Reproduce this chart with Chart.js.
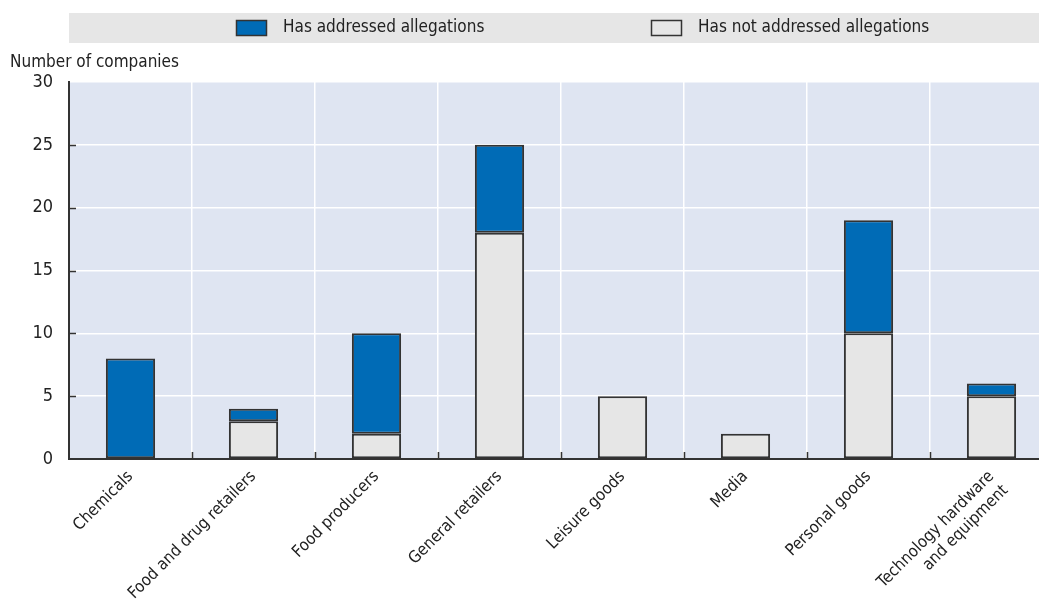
<!DOCTYPE html>
<html>
<head>
<meta charset="utf-8">
<script src="https://cdn.jsdelivr.net/npm/chart.js@4.4.0/dist/chart.umd.min.js"></script>
<style>
    body { margin: 0; background: #fff; overflow: hidden; }
    .chart-wrap { width: 1060px; height: 603px; }
</style>
</head>
<body onload="onInit()">
<div class="chart-wrap">
    <canvas id="myChart" width="1060" height="603"></canvas>
</div>
<script>
'use strict'

const FONT = '"Liberation Sans Narrow", "DejaVu Sans Condensed", Arial, sans-serif'

const gCategories = [
    'Chemicals',
    'Food and drug retailers',
    'Food producers',
    'General retailers',
    'Leisure goods',
    'Media',
    'Personal goods',
    ['Technology hardware', 'and equipment']
]
const gNotAddressed = [0, 3, 2, 18, 5, 2, 10, 5]
const gAddressed = [8, 1, 8, 7, 0, 0, 9, 1]
const gYTicks = [0, 5, 10, 15, 20, 25, 30]

const gLegendItems = [
    { label: 'Has addressed allegations', color: '#006bb6', boxX: 236, textX: 283 },
    { label: 'Has not addressed allegations', color: '#e6e6e6', boxX: 651, textX: 698 }
]

var gChart

// background, legend band, axis title and the short inner tick marks
const decorPlugin = {
    id: 'decor',
    beforeDraw(chart) {
        const ctx = chart.ctx
        const area = chart.chartArea
        ctx.save()
        ctx.fillStyle = '#dfe5f2'
        ctx.fillRect(area.left, area.top, area.right - area.left, area.bottom - area.top)

        ctx.fillStyle = '#e6e6e6'
        ctx.fillRect(area.left, 13, chart.width - area.left, 30)
        ctx.font = '17px ' + FONT
        ctx.textBaseline = 'middle'
        gLegendItems.forEach(item => {
            ctx.fillStyle = item.color
            ctx.fillRect(item.boxX, 20, 31, 16)
            ctx.strokeStyle = '#333'
            ctx.lineWidth = 1.5
            ctx.strokeRect(item.boxX + 0.5, 20.5, 30, 15)
            ctx.fillStyle = '#222'
            ctx.fillText(item.label, item.textX, 28)
        })

        ctx.fillStyle = '#222'
        ctx.font = '17px ' + FONT
        ctx.textBaseline = 'alphabetic'
        ctx.fillText('Number of companies', 10, 67)
        ctx.restore()
    },
    afterDraw(chart) {
        const ctx = chart.ctx
        const area = chart.chartArea
        const x = chart.scales.x
        const y = chart.scales.y
        ctx.save()
        ctx.strokeStyle = '#333'
        ctx.lineWidth = 1.5
        ctx.beginPath()
        for (let i = 1; i < gCategories.length; i++) {
            const px = Math.round((x.getPixelForValue(i - 1) + x.getPixelForValue(i)) / 2) + 0.5
            ctx.moveTo(px, area.bottom)
            ctx.lineTo(px, area.bottom - 7)
        }
        gYTicks.forEach(v => {
            if (v === 0 || v === 30) return
            const py = Math.round(y.getPixelForValue(v)) + 0.5
            ctx.moveTo(area.left, py)
            ctx.lineTo(area.left + 7, py)
        })
        ctx.stroke()
        ctx.restore()
    }
}

function onInit() {
    renderChart()
}

function renderChart() {
    const ctx = document.getElementById('myChart')
    gChart = new Chart(ctx, {
        type: 'bar',
        data: {
            labels: gCategories,
            datasets: [{
                label: gLegendItems[1].label,
                data: gNotAddressed,
                backgroundColor: gLegendItems[1].color,
                borderColor: '#333',
                borderWidth: 2,
                borderSkipped: false,
                barPercentage: 0.4,
                categoryPercentage: 1
            }, {
                label: gLegendItems[0].label,
                data: gAddressed,
                backgroundColor: gLegendItems[0].color,
                borderColor: '#333',
                borderWidth: 2,
                borderSkipped: false,
                barPercentage: 0.4,
                categoryPercentage: 1
            }]
        },
        options: {
            responsive: false,
            animation: false,
            events: [],
            layout: {
                padding: { top: 82, right: 7, left: 0, bottom: 0 }
            },
            plugins: {
                legend: { display: false },
                tooltip: { enabled: false }
            },
            scales: {
                x: {
                    stacked: true,
                    afterFit: scale => { scale.height = 144 },
                    grid: {
                        offset: true,
                        color: '#ffffff',
                        lineWidth: 1.5,
                        drawTicks: false
                    },
                    border: { color: '#333', width: 2 },
                    ticks: {
                        autoSkip: false,
                        maxRotation: 45,
                        minRotation: 45,
                        padding: 8,
                        color: '#222',
                        font: { family: FONT, size: 16.5 }
                    }
                },
                y: {
                    stacked: true,
                    min: 0,
                    max: 30,
                    afterFit: scale => { scale.width = 69 },
                    afterBuildTicks: scale => {
                        scale.ticks = gYTicks.map(v => ({ value: v }))
                    },
                    grid: {
                        color: '#ffffff',
                        lineWidth: 1.5,
                        drawTicks: false
                    },
                    border: { color: '#333', width: 2 },
                    ticks: {
                        padding: 16,
                        color: '#222',
                        font: { family: FONT, size: 18 }
                    }
                }
            }
        },
        plugins: [decorPlugin]
    })
}
</script>
</body>
</html>
